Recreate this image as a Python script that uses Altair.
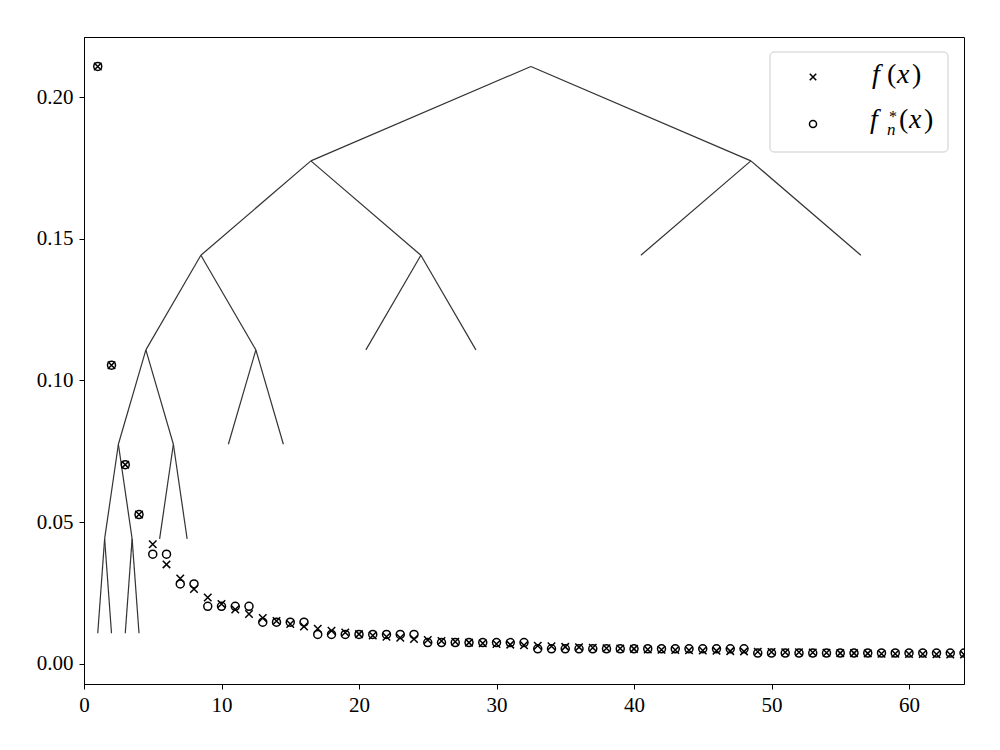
import altair as alt
import pandas as pd

# ---- data ----
x_vals = list(range(1, 65))
f_vals = [0.2108, 0.1054, 0.0703, 0.0527, 0.0422, 0.0351, 0.0301, 0.0264,
          0.0234, 0.0211, 0.0192, 0.0176, 0.0162, 0.0151, 0.0141, 0.0132,
          0.0124, 0.0117, 0.0111, 0.0105, 0.0100, 0.0096, 0.0092, 0.0088,
          0.0084, 0.0081, 0.0078, 0.0075, 0.0073, 0.0070, 0.0068, 0.0066,
          0.0064, 0.0062, 0.0060, 0.0059, 0.0057, 0.0055, 0.0054, 0.0053,
          0.0051, 0.0050, 0.0049, 0.0048, 0.0047, 0.0046, 0.0045, 0.0044,
          0.0043, 0.0042, 0.0041, 0.0041, 0.0040, 0.0039, 0.0038, 0.0038,
          0.0037, 0.0036, 0.0036, 0.0035, 0.0035, 0.0034, 0.0033, 0.0033]
fn_vals = [0.2108, 0.1054, 0.0703, 0.0527, 0.0387, 0.0387, 0.0282, 0.0282,
           0.0203, 0.0203, 0.0203, 0.0203, 0.0147, 0.0147, 0.0147, 0.0147,
           0.0104, 0.0104, 0.0104, 0.0104, 0.0104, 0.0104, 0.0104, 0.0104,
           0.0075, 0.0075, 0.0075, 0.0075, 0.0075, 0.0075, 0.0075, 0.0075,
           0.0053, 0.0053, 0.0053, 0.0053, 0.0053, 0.0053, 0.0053, 0.0053,
           0.0053, 0.0053, 0.0053, 0.0053, 0.0053, 0.0053, 0.0053, 0.0053,
           0.0038, 0.0038, 0.0038, 0.0038, 0.0038, 0.0038, 0.0038, 0.0038,
           0.0038, 0.0038, 0.0038, 0.0038, 0.0038, 0.0038, 0.0038, 0.0038]

# tree edges (parent -> child)
tree_x  = [32.5, 32.5, 48.5, 48.5, 16.5, 16.5, 24.5, 24.5, 8.5, 8.5,
           12.5, 12.5, 4.5, 4.5, 6.5, 6.5, 2.5, 2.5, 1.5, 1.5, 3.5, 3.5]
tree_y  = [0.2108, 0.2108, 0.1775, 0.1775, 0.1775, 0.1775, 0.1442, 0.1442,
           0.1442, 0.1442, 0.1108, 0.1108, 0.1108, 0.1108, 0.0775, 0.0775,
           0.0775, 0.0775, 0.0441, 0.0441, 0.0441, 0.0441]
tree_x2 = [16.5, 48.5, 40.5, 56.5, 8.5, 24.5, 20.5, 28.5, 4.5, 12.5,
           10.5, 14.5, 2.5, 6.5, 5.5, 7.5, 1.5, 3.5, 1.0, 2.0, 3.0, 4.0]
tree_y2 = [0.1775, 0.1775, 0.1442, 0.1442, 0.1442, 0.1442, 0.1108, 0.1108,
           0.1108, 0.1108, 0.0775, 0.0775, 0.0775, 0.0775, 0.0441, 0.0441,
           0.0441, 0.0441, 0.0108, 0.0108, 0.0108, 0.0108]

x_ticks = [0, 10, 20, 30, 40, 50, 60]
y_ticks = [0.0, 0.05, 0.10, 0.15, 0.20]
X_DOMAIN = [0, 64]
Y_DOMAIN = [-0.0071, 0.2212]

FONT = "Liberation Serif"
CROSS = "M-1,-1L1,1M-1,1L1,-1"

pts = pd.DataFrame({"x": x_vals, "f": f_vals, "fn": fn_vals})
tree = pd.DataFrame({"x": tree_x, "y": tree_y, "x2": tree_x2, "y2": tree_y2})
one = pd.DataFrame({"a": [0]})

xscale = alt.Scale(domain=X_DOMAIN, nice=False, zero=False)
yscale = alt.Scale(domain=Y_DOMAIN, nice=False, zero=False)
xaxis = alt.Axis(values=x_ticks, format="d", title=None, grid=False, labelFlush=False)
yaxis = alt.Axis(values=y_ticks, format=".2f", title=None, grid=False, labelFlush=False)

tree_layer = alt.Chart(tree).mark_rule(color="#333333", strokeWidth=1.2).encode(
    x=alt.X("x:Q", scale=xscale, axis=xaxis),
    y=alt.Y("y:Q", scale=yscale, axis=yaxis),
    x2="x2:Q", y2="y2:Q")

cross_layer = alt.Chart(pts).mark_point(
    shape=CROSS, size=56, filled=False, color="black", opacity=1,
    strokeWidth=1.5, clip=True
).encode(
    x=alt.X("x:Q", scale=xscale, axis=xaxis),
    y=alt.Y("f:Q", scale=yscale, axis=yaxis))

circle_layer = alt.Chart(pts).mark_point(
    shape="circle", size=64, filled=False, color="black", opacity=1,
    strokeWidth=1.5, clip=True
).encode(
    x=alt.X("x:Q", scale=xscale, axis=xaxis),
    y=alt.Y("fn:Q", scale=yscale, axis=yaxis))

# ---- legend (drawn in pixel space of the plot area) ----
legend_box = alt.Chart(one).mark_rect(
    fill="white", fillOpacity=0.8, stroke="#cccccc", strokeWidth=1, cornerRadius=4
).encode(x=alt.value(686), x2=alt.value(864), y=alt.value(15), y2=alt.value(115))

leg_cross = alt.Chart(one).mark_point(
    shape=CROSS, size=42, filled=False, color="black", opacity=1, strokeWidth=1.5
).encode(x=alt.value(729), y=alt.value(40))
leg_circle = alt.Chart(one).mark_point(
    shape="circle", size=50, filled=False, color="black", opacity=1, strokeWidth=1.5
).encode(x=alt.value(729), y=alt.value(87))

def txt(s, x, y, size, style="italic"):
    return alt.Chart(one).mark_text(
        text=s, font=FONT, fontSize=size, fontStyle=style, align="left",
        baseline="alphabetic", color="black"
    ).encode(x=alt.value(x), y=alt.value(y))

legend_texts = [
    # f(x)
    txt("f", 788, 46, 28), txt("(", 803, 46, 28, "normal"),
    txt("x", 813, 46, 28), txt(")", 828, 46, 28, "normal"),
    # f*_n(x)
    txt("f", 786, 91, 28), txt("*", 805, 85, 16, "normal"),
    txt("n", 803, 98, 17), txt("(", 815, 91, 28, "normal"),
    txt("x", 825, 91, 28), txt(")", 840, 91, 28, "normal"),
]

chart = alt.layer(
    tree_layer, cross_layer, circle_layer,
    legend_box, leg_cross, leg_circle, *legend_texts
).properties(
    width=880, height=647,
    autosize=alt.AutoSizeParams(type="none"),
    padding={"left": 76, "top": 29, "right": 20, "bottom": 40},
).configure_view(
    stroke="black", strokeWidth=1
).configure_axis(
    domain=True, domainColor="black", domainWidth=1,
    ticks=True, tickColor="black", tickWidth=1, tickSize=5,
    labelFont=FONT, labelFontSize=21, labelColor="black", labelPadding=5,
).configure_axisY(labelPadding=6)

chart.save("out.html", embed_options={"renderer": "svg", "actions": False})
